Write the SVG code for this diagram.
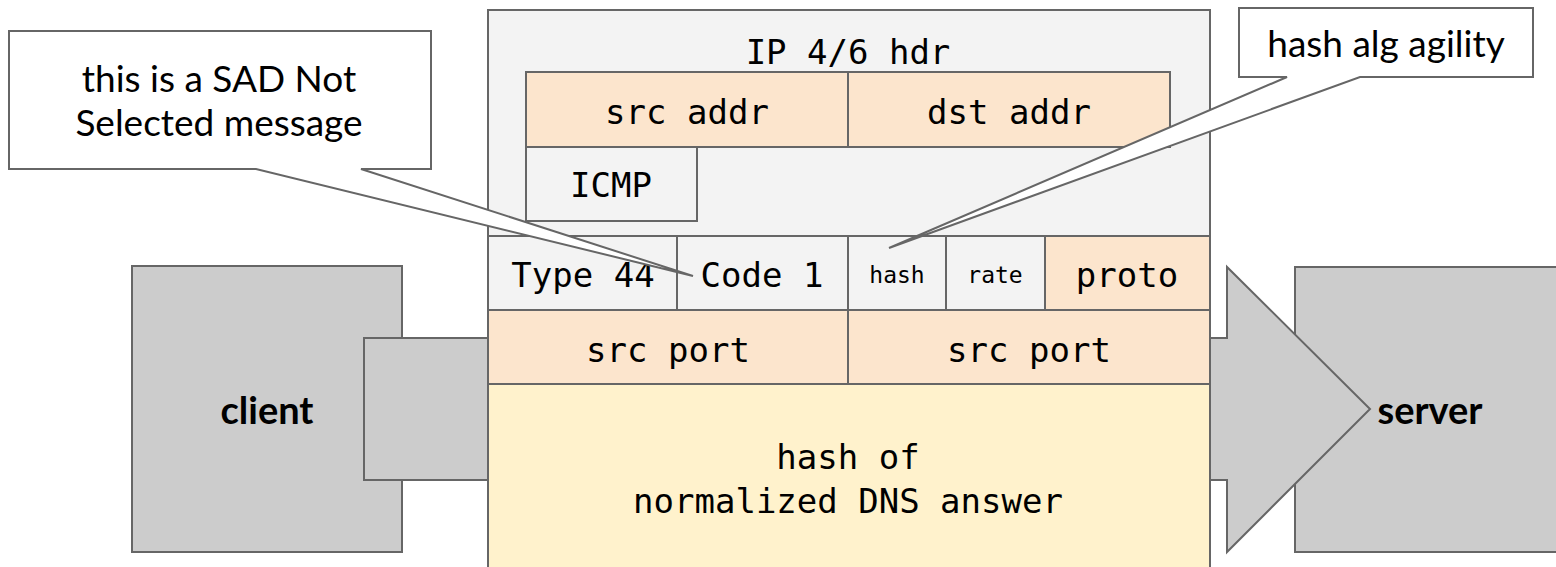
<svg xmlns="http://www.w3.org/2000/svg" width="1556" height="567" viewBox="0 0 1556 567">
  <style>
    .box { stroke: #666666; stroke-width: 2; }
    .grey { fill: #f3f3f3; }
    .peach { fill: #fce5cd; }
    .cream { fill: #fff2cc; }
    .host { fill: #cccccc; stroke: #666666; stroke-width: 2; }
    .callout { fill: #ffffff; stroke: #666666; stroke-width: 2; stroke-linejoin: miter; }
    .mono { font-family: "DejaVu Sans Mono", "Liberation Mono", monospace; font-size: 34px; fill: #000000; text-anchor: middle; }
    .mono-sm { font-family: "DejaVu Sans Mono", "Liberation Mono", monospace; font-size: 23px; fill: #000000; text-anchor: middle; }
    .label { font-family: Lato, "Liberation Sans", sans-serif; font-size: 37px; fill: #000000; text-anchor: middle; }
    .bold { font-weight: bold; font-size: 38px; }
  </style>

  <!-- client host -->
  <g id="client">
    <rect class="host" x="132" y="266" width="270" height="286"/>
    <text class="label bold" x="267" y="424">client</text>
  </g>

  <!-- server host -->
  <g id="server">
    <rect class="host" x="1295" y="267" width="275" height="285"/>
    <text class="label bold" x="1430" y="424">server</text>
  </g>

  <g id="connectors">
    <!-- stub leaving the client -->
    <rect class="host" x="364" y="338" width="124" height="142"/>
    <!-- block arrow into the server -->
    <path class="host" d="M1210 338 H1227 V267 L1370 409 L1227 552 V480 H1210"/>
  </g>

  <!-- packet layout -->
  <g id="packet">
    <rect class="box grey" x="488" y="10" width="722" height="570"/>
    <text class="mono" x="848" y="64">IP 4/6 hdr</text>

    <g id="src-addr">
      <rect class="box peach" x="526" y="72" width="322" height="75"/>
      <text class="mono" x="687" y="124">src addr</text>
    </g>
    <g id="dst-addr">
      <rect class="box peach" x="848" y="72" width="322" height="75"/>
      <text class="mono" x="1009" y="124">dst addr</text>
    </g>
    <g id="icmp">
      <rect class="box grey" x="526" y="147" width="171" height="74"/>
      <text class="mono" x="611" y="197">ICMP</text>
    </g>

    <g id="type">
      <rect class="box grey" x="488" y="236" width="189" height="74"/>
      <text class="mono" x="583" y="287">Type 44</text>
    </g>
    <g id="code">
      <rect class="box grey" x="677" y="236" width="171" height="74"/>
      <text class="mono" x="762" y="287">Code 1</text>
    </g>
    <g id="hash">
      <rect class="box grey" x="848" y="236" width="98" height="74"/>
      <text class="mono-sm" x="897" y="283">hash</text>
    </g>
    <g id="rate">
      <rect class="box grey" x="946" y="236" width="99" height="74"/>
      <text class="mono-sm" x="995" y="283">rate</text>
    </g>
    <g id="proto">
      <rect class="box peach" x="1045" y="236" width="165" height="74"/>
      <text class="mono" x="1127" y="287">proto</text>
    </g>

    <g id="src-port-1">
      <rect class="box peach" x="488" y="310" width="360" height="74"/>
      <text class="mono" x="668" y="362">src port</text>
    </g>
    <g id="src-port-2">
      <rect class="box peach" x="848" y="310" width="362" height="74"/>
      <text class="mono" x="1029" y="362">src port</text>
    </g>

    <g id="answer-hash">
      <rect class="box cream" x="488" y="384" width="722" height="196"/>
      <text class="mono" x="848" y="469">hash of</text>
      <text class="mono" x="848" y="513">normalized DNS answer</text>
    </g>
  </g>

  <!-- callouts -->
  <g id="callout-sad">
    <path class="callout" d="M9 31 H431 V169 H361 L693 276 L256 169 H9 Z"/>
    <text class="label" x="219" y="92">this is a SAD Not</text>
    <text class="label" x="219" y="136">Selected message</text>
  </g>
  <g id="callout-agility">
    <path class="callout" d="M1239 8 H1533 V77 H1360 L889 248 L1287 77 H1239 Z"/>
    <text class="label" x="1386" y="57">hash alg agility</text>
  </g>
</svg>
